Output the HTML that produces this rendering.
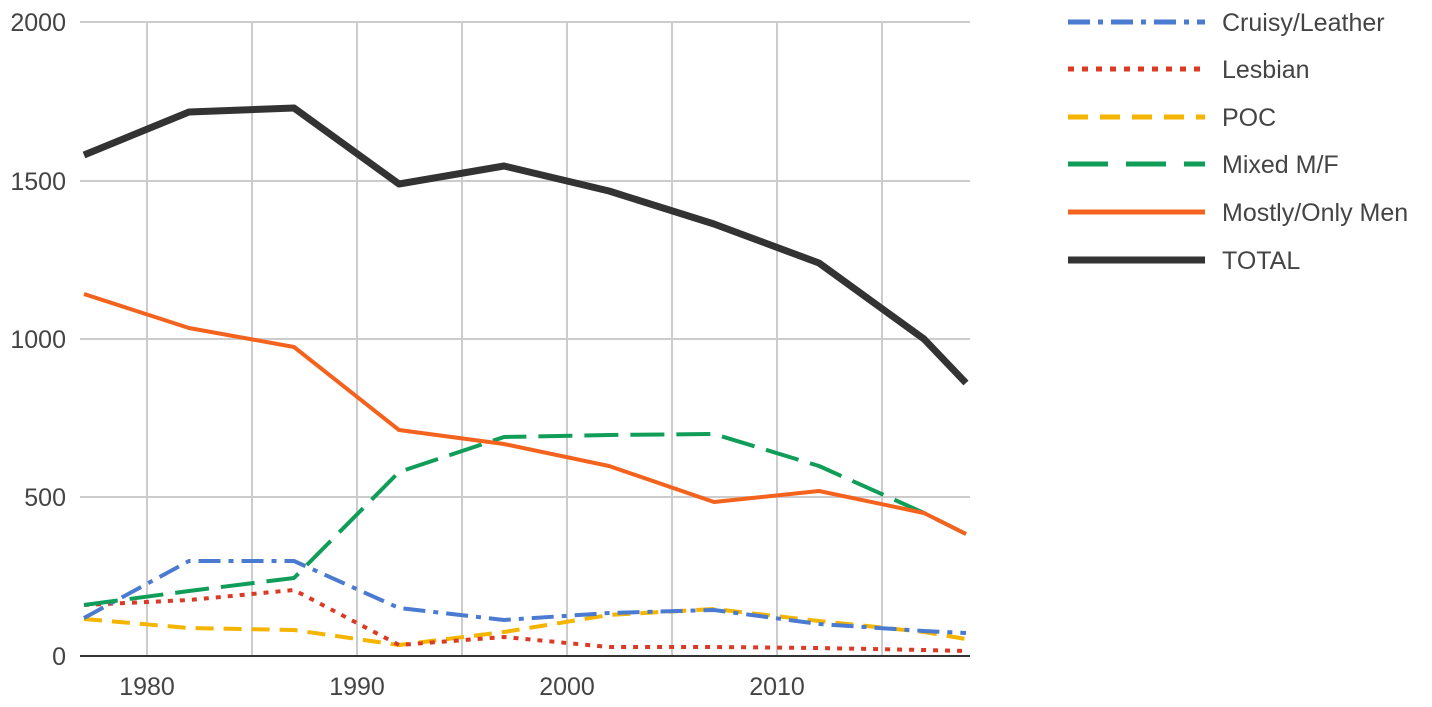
<!DOCTYPE html>
<html><head><meta charset="utf-8"><style>
html,body{margin:0;padding:0;background:#fff;}
svg text{font-family:"Liberation Sans",sans-serif;fill:#444;}
</style></head><body>
<svg width="1432" height="702" viewBox="0 0 1432 702" xmlns="http://www.w3.org/2000/svg">
<g stroke="#ccc" stroke-width="2">
<line x1="80" y1="22" x2="970" y2="22"/>
<line x1="80" y1="181" x2="970" y2="181"/>
<line x1="80" y1="339" x2="970" y2="339"/>
<line x1="80" y1="497" x2="970" y2="497"/>
<line x1="147" y1="22" x2="147" y2="656"/>
<line x1="252" y1="22" x2="252" y2="656"/>
<line x1="357" y1="22" x2="357" y2="656"/>
<line x1="462" y1="22" x2="462" y2="656"/>
<line x1="567" y1="22" x2="567" y2="656"/>
<line x1="672" y1="22" x2="672" y2="656"/>
<line x1="777" y1="22" x2="777" y2="656"/>
<line x1="882" y1="22" x2="882" y2="656"/>
</g>
<line x1="80" y1="656" x2="970" y2="656" stroke="#333" stroke-width="2"/>
<g font-size="25" text-anchor="end">
<text x="66" y="31">2000</text><text x="66" y="190">1500</text><text x="66" y="348">1000</text><text x="66" y="506">500</text><text x="66" y="665">0</text>
</g>
<g font-size="25" text-anchor="middle">
<text x="147" y="695">1980</text><text x="357" y="695">1990</text><text x="567" y="695">2000</text><text x="777" y="695">2010</text>
</g>
<g fill="none" stroke-linejoin="round">
<polyline stroke="#f4b400" stroke-width="4" stroke-dasharray="18 10" points="84,619 189,628 294,630 399,645 504,632 609,615 714,609 819,621 924,632 966,639"/>
<polyline stroke="#db3b26" stroke-width="4" stroke-dasharray="5 7" points="84,605 189,600 294,590 399,645 504,637 609,647 714,647 819,648 924,650 966,651"/>
<polyline stroke="#4a7bd0" stroke-width="4" stroke-dasharray="22 8 5 8" points="84,618 189,561 294,561 399,608 504,620 609,613 714,610 819,624 924,631 966,633"/>
<polyline stroke="#0f9d58" stroke-width="4" stroke-dasharray="34 12" points="84,605 189,591 294,578 399,472 504,437 609,435 714,434 819,466 924,513 966,534"/>
<polyline stroke="#f4631e" stroke-width="4" points="84,294 189,328 294,347 399,430 504,444 609,466 714,502 819,491 924,513 966,534"/>
<polyline stroke="#333" stroke-width="7" points="84,155 189,112 294,108 399,184 504,166 609,191 714,224 819,263 924,339 966,383"/>
</g>
<g fill="none">
<line x1="1068" y1="22" x2="1205" y2="22" stroke="#4a7bd0" stroke-width="5" stroke-dasharray="22 8 5 8"/>
<line x1="1068" y1="69" x2="1205" y2="69" stroke="#db3b26" stroke-width="5" stroke-dasharray="6 8"/>
<line x1="1068" y1="117" x2="1205" y2="117" stroke="#f4b400" stroke-width="5" stroke-dasharray="20 12"/>
<line x1="1068" y1="164" x2="1205" y2="164" stroke="#0f9d58" stroke-width="5" stroke-dasharray="40 18"/>
<line x1="1068" y1="212" x2="1205" y2="212" stroke="#f4631e" stroke-width="5"/>
<line x1="1068" y1="260" x2="1205" y2="260" stroke="#333" stroke-width="7"/>
</g>
<g font-size="25">
<text x="1222" y="31">Cruisy/Leather</text>
<text x="1222" y="78">Lesbian</text>
<text x="1222" y="126">POC</text>
<text x="1222" y="173">Mixed M/F</text>
<text x="1222" y="221">Mostly/Only Men</text>
<text x="1222" y="269">TOTAL</text>
</g>
</svg>
</body></html>
